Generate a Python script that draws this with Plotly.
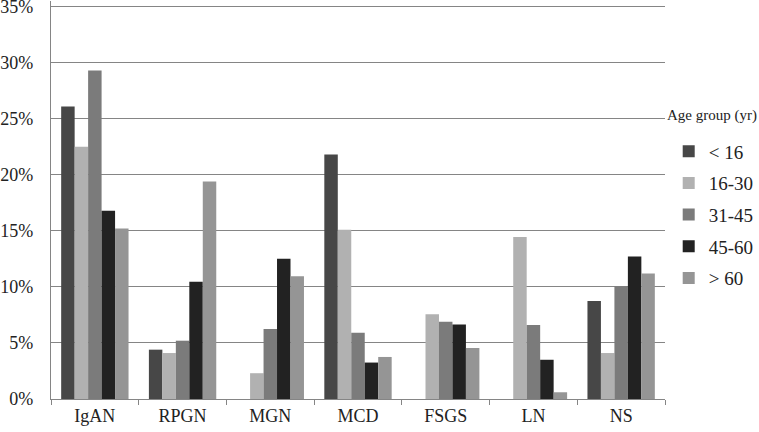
import plotly.graph_objects as go

categories = ["IgAN", "RPGN", "MGN", "MCD", "FSGS", "LN", "NS"]
series_names = ["< 16", "16-30", "31-45", "45-60", "> 60"]
lt16 = [26.1, 4.4, 0, 21.8, 0, 0, 8.75]
a16_30 = [22.5, 4.1, 2.3, 15.1, 7.55, 14.45, 4.1]
a31_45 = [29.3, 5.2, 6.25, 5.9, 6.9, 6.6, 10.05]
a45_60 = [16.8, 10.45, 12.5, 3.25, 6.65, 3.5, 12.7]
gt60 = [15.2, 19.4, 10.95, 3.75, 4.55, 0.6, 11.2]
values = [lt16, a16_30, a31_45, a45_60, gt60]
colors = ["#474747", "#b1b1b1", "#7b7b7b", "#222222", "#959595"]
y_ticks = [0, 5, 10, 15, 20, 25, 30, 35]

FONT = "Liberation Serif, Times New Roman, serif"

fig = go.Figure()
for name, vals, col in zip(series_names, values, colors):
    fig.add_trace(go.Bar(
        x=categories, y=vals, name=name, marker_color=col,
        marker_line_width=0, legendgroup=name,
    ))

fig.update_layout(
    width=759, height=432,
    margin=dict(l=51, r=93, t=1.4, b=32.5),
    paper_bgcolor="white", plot_bgcolor="white",
    barmode="group", bargap=0.232, bargroupgap=0,
    font=dict(family=FONT, size=18, color="#222222"),
    showlegend=True,
    legend=dict(
        x=1.0044, xanchor="left", y=0.67, yanchor="top",
        font=dict(family=FONT, size=19, color="#222222"),
        tracegroupgap=4, itemwidth=30,
        bgcolor="rgba(0,0,0,0)",
    ),
    annotations=[dict(
        text="Age group (yr)", xref="paper", yref="paper",
        x=1.0, y=0.712, xanchor="left", yanchor="middle", showarrow=False,
        font=dict(family=FONT, size=15, color="#222222"),
    )],
)
fig.update_yaxes(
    range=[0, 35.5], tickvals=y_ticks, ticktext=[f"{v}%" for v in y_ticks],
    showgrid=True, gridcolor="#858585", gridwidth=1.3,
    showline=True, linecolor="#858585", linewidth=1.3,
    zeroline=False, ticks="", ticklabelstandoff=13, automargin=False,
    ticklabeloverflow="allow",
)
fig.update_xaxes(
    showline=True, linecolor="#858585", linewidth=1.3,
    ticks="outside", tickson="boundaries", ticklen=5, tickcolor="#858585",
    tickwidth=1.3, automargin=False,
)
fig.write_html(
    "out.html",
    config={"displayModeBar": False},
    post_script="document.body.style.margin='0';document.body.style.padding='0';",
)
